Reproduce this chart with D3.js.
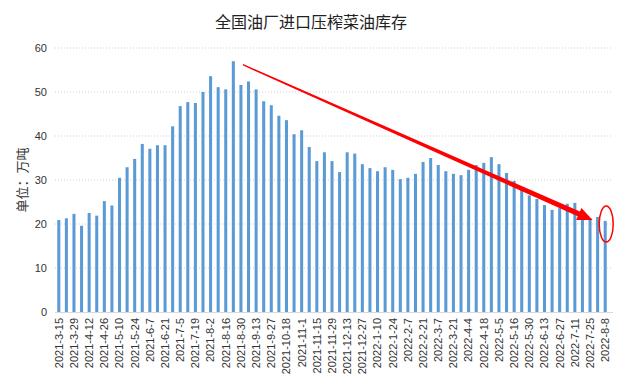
<!DOCTYPE html>
<html>
<head>
<meta charset="utf-8">
<script src="https://cdn.jsdelivr.net/npm/d3@7"></script>
<style>
  body { margin: 0; background: #fff; }
  svg { display: block; }
</style>
</head>
<body>
<div id="chart"></div>
<script>
// weekly dates (only every other one is labelled on the axis)
const dates = [
  "2021-3-15", "2021-3-22", "2021-3-29", "2021-4-5", "2021-4-12", "2021-4-19", "2021-4-26", "2021-5-3",
  "2021-5-10", "2021-5-17", "2021-5-24", "2021-5-31", "2021-6-7", "2021-6-14", "2021-6-21", "2021-6-28",
  "2021-7-5", "2021-7-12", "2021-7-19", "2021-7-26", "2021-8-2", "2021-8-9", "2021-8-16", "2021-8-23",
  "2021-8-30", "2021-9-6", "2021-9-13", "2021-9-20", "2021-9-27", "2021-10-11", "2021-10-18", "2021-10-25",
  "2021-11-1", "2021-11-8", "2021-11-15", "2021-11-22", "2021-11-29", "2021-12-6", "2021-12-13", "2021-12-20",
  "2021-12-27", "2022-1-3", "2022-1-10", "2022-1-17", "2022-1-24", "2022-1-31", "2022-2-7", "2022-2-14",
  "2022-2-21", "2022-2-28", "2022-3-7", "2022-3-14", "2022-3-21", "2022-3-28", "2022-4-4", "2022-4-11",
  "2022-4-18", "2022-4-25", "2022-5-5", "2022-5-9", "2022-5-16", "2022-5-23", "2022-5-30", "2022-6-6",
  "2022-6-13", "2022-6-20", "2022-6-27", "2022-7-4", "2022-7-11", "2022-7-18", "2022-7-25", "2022-8-1",
  "2022-8-8"
];

// 库存, 万吨
const stock = [
  20.9, 21.3, 22.3, 19.6, 22.5, 21.9, 25.2, 24.2, 30.5, 32.9, 34.8, 38.2, 37.1, 37.9, 37.9, 42.2,
  46.8, 47.7, 47.5, 50.0, 53.6, 51.1, 50.6, 57.0, 51.6, 52.4, 50.6, 47.9, 47.0, 44.6, 43.6, 40.4,
  41.3, 37.5, 34.3, 36.3, 34.3, 31.8, 36.3, 36.0, 33.6, 32.7, 32.0, 32.9, 32.3, 30.2, 30.5, 31.4,
  34.1, 35.0, 33.4, 32.0, 31.4, 31.1, 32.3, 33.4, 33.9, 35.2, 33.6, 31.6, 29.8, 28.2, 26.5, 25.7,
  24.3, 23.2, 23.6, 24.6, 24.8, 22.4, 21.3, 21.6, 20.7
];

const yTicks = [0, 10, 20, 30, 40, 50, 60];

const width = 619, height = 385;
const margin = {top: 48, right: 10, bottom: 73, left: 55};

const svg = d3.select("#chart").append("svg")
  .attr("width", width)
  .attr("height", height);

svg.append("text")
  .attr("x", 311)
  .attr("y", 28)
  .attr("text-anchor", "middle")
  .style("font-family", "'Noto Sans CJK SC', sans-serif")
  .style("font-size", "16px")
  .style("fill", "#222")
  .text("全国油厂进口压榨菜油库存");

const x = d3.scaleBand()
  .domain(dates)
  .range([margin.left, width - margin.right])
  .paddingInner(0.6)
  .paddingOuter(0.3);

const y = d3.scaleLinear()
  .domain([0, 60])
  .range([height - margin.bottom, margin.top]);

// gridlines
svg.append("g")
  .selectAll("line")
  .data(yTicks.slice(1))
  .enter().append("line")
  .attr("x1", margin.left)
  .attr("x2", width - 6)
  .attr("y1", d => y(d))
  .attr("y2", d => y(d))
  .attr("stroke", "#cfcfcf")
  .attr("stroke-width", 1)
  .attr("stroke-dasharray", "1,2");

// y axis labels
svg.append("g")
  .selectAll("text")
  .data(yTicks)
  .enter().append("text")
  .attr("x", 47)
  .attr("y", d => y(d))
  .attr("dy", "0.35em")
  .attr("text-anchor", "end")
  .style("font-family", "'Liberation Sans', Arial, sans-serif")
  .style("font-size", "11px")
  .style("fill", "#333")
  .text(d => d);

svg.append("text")
  .attr("transform", "translate(22," + y(30) + ") rotate(-90)")
  .attr("text-anchor", "middle")
  .attr("dy", "0.35em")
  .style("font-family", "'Noto Sans CJK SC', sans-serif")
  .style("font-size", "13px")
  .style("fill", "#333")
  .text("单位：万吨");

// bars
svg.append("g")
  .selectAll("rect")
  .data(stock)
  .enter().append("rect")
  .attr("x", (d, i) => x(dates[i]))
  .attr("y", d => y(d))
  .attr("width", x.bandwidth())
  .attr("height", d => y(0) - y(d))
  .attr("fill", "#5b9bd5");

// x axis
const xAxis = d3.axisBottom(x)
  .tickValues(dates.filter((d, i) => i % 2 === 0))
  .tickSize(0);

const gx = svg.append("g")
  .attr("transform", "translate(0," + y(0) + ")")
  .call(xAxis);

gx.select(".domain")
  .attr("stroke", "#d9d9d9")
  .attr("d", "M" + margin.left + ",0.5H" + (width - 6));

gx.selectAll("text")
  .attr("transform", "rotate(-90)")
  .attr("x", -6)
  .attr("y", 0)
  .attr("dy", "0.35em")
  .attr("text-anchor", "end")
  .style("font-family", "'Liberation Sans', Arial, sans-serif")
  .style("font-size", "11px")
  .style("fill", "#333");

// red arrow annotation: from after the peak down to the latest weeks
const cx = d => x(d) + x.bandwidth() / 2;
const p0 = [cx(dates[24]) + 2, y(56.2)];
const p1 = [cx(dates[70]) + 2.5, y(20.9)];
const dxA = p1[0] - p0[0], dyA = p1[1] - p0[1];
const len = Math.sqrt(dxA * dxA + dyA * dyA);
const ux = dxA / len, uy = dyA / len;
const nx = -uy, ny = ux;
const headLen = 15, headW = 6.5, w0 = 0.7, w1 = 2.6;
const hb = [p1[0] - ux * headLen, p1[1] - uy * headLen];
const arrowPts = [
  [p0[0] + nx * w0, p0[1] + ny * w0],
  [hb[0] + nx * w1, hb[1] + ny * w1],
  [hb[0] + nx * headW, hb[1] + ny * headW],
  p1,
  [hb[0] - nx * headW, hb[1] - ny * headW],
  [hb[0] - nx * w1, hb[1] - ny * w1],
  [p0[0] - nx * w0, p0[1] - ny * w0]
];
svg.append("path")
  .attr("d", d3.line()(arrowPts) + "Z")
  .attr("fill", "#ff0000");

// circle around latest bar
svg.append("ellipse")
  .attr("cx", cx(dates[72]) + 1)
  .attr("cy", y(20))
  .attr("rx", 7)
  .attr("ry", 18)
  .attr("fill", "none")
  .attr("stroke", "#ff0000")
  .attr("stroke-width", 1.5);
</script>
</body>
</html>
